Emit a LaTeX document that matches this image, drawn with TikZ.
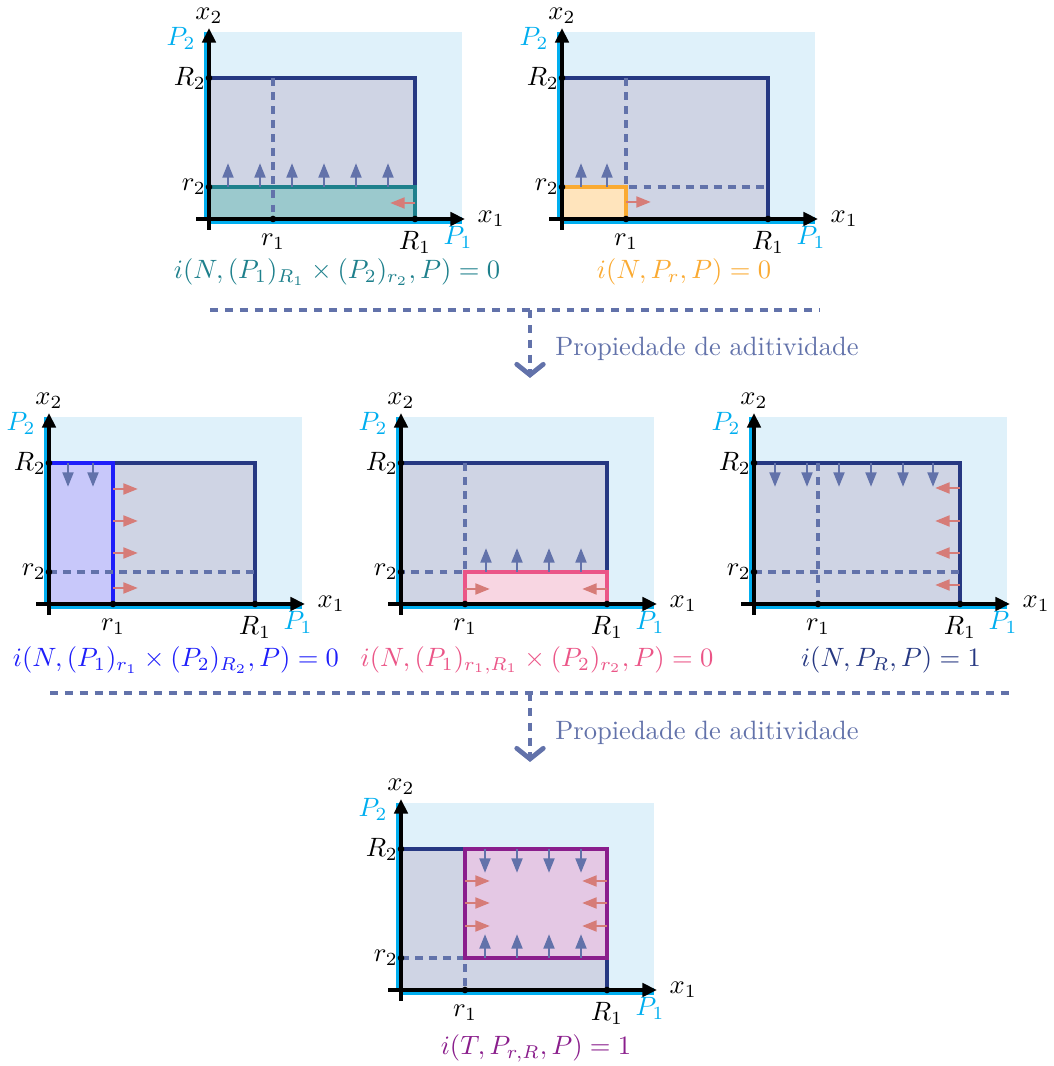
\documentclass[tikz,border=0pt]{standalone}
\usepackage{amsmath}
\usepackage{amssymb}
\usepackage{tikz}
\usetikzlibrary{arrows.meta,positioning}
\usepackage{xcolor}
\definecolor{fondoazul}{RGB}{223,241,250}
\definecolor{pcian}{RGB}{0,174,239}
\definecolor{marcoazul}{RGB}{38,56,130}
\definecolor{rellenoazul}{RGB}{207,212,228}
\definecolor{guioncol}{RGB}{98,114,170}
\definecolor{rojocol}{RGB}{214,124,120}
\definecolor{tealcol}{RGB}{30,128,140}
\definecolor{tealfill}{RGB}{155,201,205}
\definecolor{naranja}{RGB}{250,170,50}
\definecolor{naranjafill}{RGB}{255,228,188}
\definecolor{azulcol}{RGB}{30,30,250}
\definecolor{azulfill}{RGB}{200,200,250}
\definecolor{rosacol}{RGB}{235,85,135}
\definecolor{rosafill}{RGB}{248,214,226}
\definecolor{moradocol}{RGB}{138,30,140}
\definecolor{moradofill}{RGB}{228,200,228}

% medidas del rectangulo (en pixeles de la figura)
\newcommand{\Runo}{206}
\newcommand{\Rdos}{141}
\newcommand{\runo}{64}
\newcommand{\rdos}{32}

\tikzset{
  fondo/.style={fill=fondoazul},
  marco/.style={draw=marcoazul,fill=rellenoazul,line width=1.5pt},
  region/.style={line width=1.5pt},
  guion/.style={guioncol,dash pattern=on 3pt off 2.3pt,line width=1.3pt},
  flechaazul/.style={guioncol,line width=1.1pt,-{Triangle[length=5.5pt,width=4pt]}},
  flecharoja/.style={rojocol,line width=1.1pt,-{Triangle[length=5.5pt,width=4pt]}},
  eje/.style={line width=1.5pt,-{Triangle[length=5.5pt,width=5pt]}},
  cian/.style={pcian,line width=2.6pt},
  punto/.style={circle,fill=black,inner sep=0pt,minimum size=2.5pt},
  separador/.style={guioncol,line width=1.3pt,dash pattern=on 3pt off 2.6pt},
  texto/.style={guioncol,font=\normalsize},
}

% fondo y rectangulo exterior
\newcommand{\base}{%
  \fill[fondo] (0,0) rectangle (253,187);
  \filldraw[marco] (0,0) rectangle (\Runo,\Rdos);
}

% ejes, marcas y etiquetas
\newcommand{\ejes}[1]{%
  \draw[cian] (-1.5,-1.5) -- (253,-1.5);
  \draw[cian] (-1.5,-1.5) -- (-1.5,187);
  \draw[eje] (-13,0) -- (256,0) node[right,inner sep=4pt] (#1x1) {$x_1$};
  \draw[eje] (0,-11) -- (0,191) node[above,inner sep=1pt] (#1x2) {$x_2$};
  \node[punto] (#1Ra) at (\Runo,0) {};
  \node[punto] (#1ra) at (\runo,0) {};
  \node[punto] (#1Rb) at (0,\Rdos) {};
  \node[punto] (#1rb) at (0,\rdos) {};
  \node[left,inner sep=1pt] (#1Rblab) at (#1Rb) {$R_2$};
  \node[left,inner sep=1pt] (#1rblab) at (#1rb) {$r_2$};
  \node[below=2pt] (#1ralab) at (#1ra) {$r_1$};
  \node[below=1pt] (#1Ralab) at (#1Ra) {$R_1$};
  \node[pcian] (#1Pa) at (249,-18) {$P_1$};
  \node[pcian] (#1Pb) at (-28,181) {$P_2$};
}

\begin{document}
\begin{tikzpicture}[x=0.377pt,y=0.377pt,>=Latex]
\useasboundingbox (0,0) rectangle (1053,1066);

% fila de arriba: P_R1 x P_r2
\begin{scope}[shift={(209,847)}]
\base
\filldraw[region,draw=tealcol,fill=tealfill] (0,0) rectangle (\Runo,\rdos);
\draw[guion] (\runo,\Rdos) -- (\runo,0);
\foreach \x in {19,51,83,115,147,179}
  \draw[flechaazul] (\x,\rdos) -- ++(0,24);
\draw[flecharoja] (\Runo,16) -- ++(-25,0);
\ejes{a}
\node[tealcol] (lblA) at (128,-53) {$i(N,(P_1)_{R_1}\times(P_2)_{r_2},P)=0$};
\end{scope}

% fila de arriba: P_r
\begin{scope}[shift={(562,847)}]
\base
\draw[guion] (\runo,\Rdos) -- (\runo,\rdos) -- (\Runo,\rdos);
\filldraw[region,draw=naranja,fill=naranjafill] (0,0) rectangle (\runo,\rdos);
\foreach \x in {19,45}
  \draw[flechaazul] (\x,\rdos) -- ++(0,24);
\draw[flecharoja] (\runo,17) -- ++(25,0);
\ejes{b}
\node[naranja] (lblB) at (122,-53) {$i(N,P_r,P)=0$};
\end{scope}

% primera flecha de aditividad
\coordinate (s1a) at (210,756);
\coordinate (s1b) at (820,756);
\coordinate (s1m) at (530,756);
\coordinate (s1f) at (530,688);
\draw[separador] (s1a) -- (s1b);
\draw[separador,-{Straight Barb[length=4pt,width=10pt,line cap=round,line width=1.8pt]}] (s1m) -- (s1f);
\node[texto,anchor=west] (adit1) at (546,717) {Propiedade de aditividade};

% fila del medio: P_r1 x P_R2
\begin{scope}[shift={(49,462)}]
\base
\filldraw[region,draw=azulcol,fill=azulfill] (0,0) rectangle (\runo,\Rdos);
\draw[guion] (0,\rdos) -- (\Runo,\rdos);
\foreach \x in {19,44}
  \draw[flechaazul] (\x,\Rdos) -- ++(0,-24);
\foreach \y in {115,83,51,16}
  \draw[flecharoja] (\runo,\y) -- ++(25,0);
\ejes{c}
\node[azulcol] (lblC) at (127,-56) {$i(N,(P_1)_{r_1}\times(P_2)_{R_2},P)=0$};
\end{scope}

% fila del medio: P_(r1,R1) x P_r2
\begin{scope}[shift={(401,462)}]
\base
\draw[guion] (\runo,\Rdos) -- (\runo,\rdos) -- (0,\rdos);
\filldraw[region,draw=rosacol,fill=rosafill] (\runo,0) rectangle (\Runo,\rdos);
\foreach \x in {85,116,148,180}
  \draw[flechaazul] (\x,\rdos) -- ++(0,24);
\draw[flecharoja] (\runo,15) -- ++(25,0);
\draw[flecharoja] (\Runo,15) -- ++(-25,0);
\ejes{d}
\node[rosacol] (lblD) at (136,-56) {$i(N,(P_1)_{r_1,R_1}\times(P_2)_{r_2},P)=0$};
\end{scope}

% fila del medio: P_R
\begin{scope}[shift={(754,462)}]
\base
\draw[guion] (\runo,\Rdos) -- (\runo,0);
\draw[guion] (0,\rdos) -- (\Runo,\rdos);
\foreach \x in {21,53,85,117,149,179}
  \draw[flechaazul] (\x,\Rdos) -- ++(0,-24);
\foreach \y in {116,83,51,19}
  \draw[flecharoja] (\Runo,\y) -- ++(-25,0);
\ejes{e}
\node[marcoazul] (lblE) at (137,-56) {$i(N,P_R,P)=1$};
\end{scope}

% segunda flecha de aditividad
\coordinate (s2a) at (50,373);
\coordinate (s2b) at (1012,373);
\coordinate (s2m) at (530,373);
\coordinate (s2f) at (530,304);
\draw[separador] (s2a) -- (s2b);
\draw[separador,-{Straight Barb[length=4pt,width=10pt,line cap=round,line width=1.8pt]}] (s2m) -- (s2f);
\node[texto,anchor=west] (adit2) at (546,333) {Propiedade de aditividade};

% fila de abajo: P_(r,R)
\begin{scope}[shift={(401,76)}]
\base
\draw[guion] (0,\rdos) -- (\runo,\rdos) -- (\runo,0);
\filldraw[region,draw=moradocol,fill=moradofill] (\runo,\rdos) rectangle (\Runo,\Rdos);
\foreach \x in {84,116,148,180}{
  \draw[flechaazul] (\x,\Rdos) -- ++(0,-24);
  \draw[flechaazul] (\x,\rdos) -- ++(0,24);
}
\foreach \y in {109,87,64}{
  \draw[flecharoja] (\runo,\y) -- ++(25,0);
  \draw[flecharoja] (\Runo,\y) -- ++(-25,0);
}
\ejes{f}
\node[moradocol] (lblF) at (135,-58) {$i(T,P_{r,R},P)=1$};
\end{scope}
\end{tikzpicture}
\end{document}
